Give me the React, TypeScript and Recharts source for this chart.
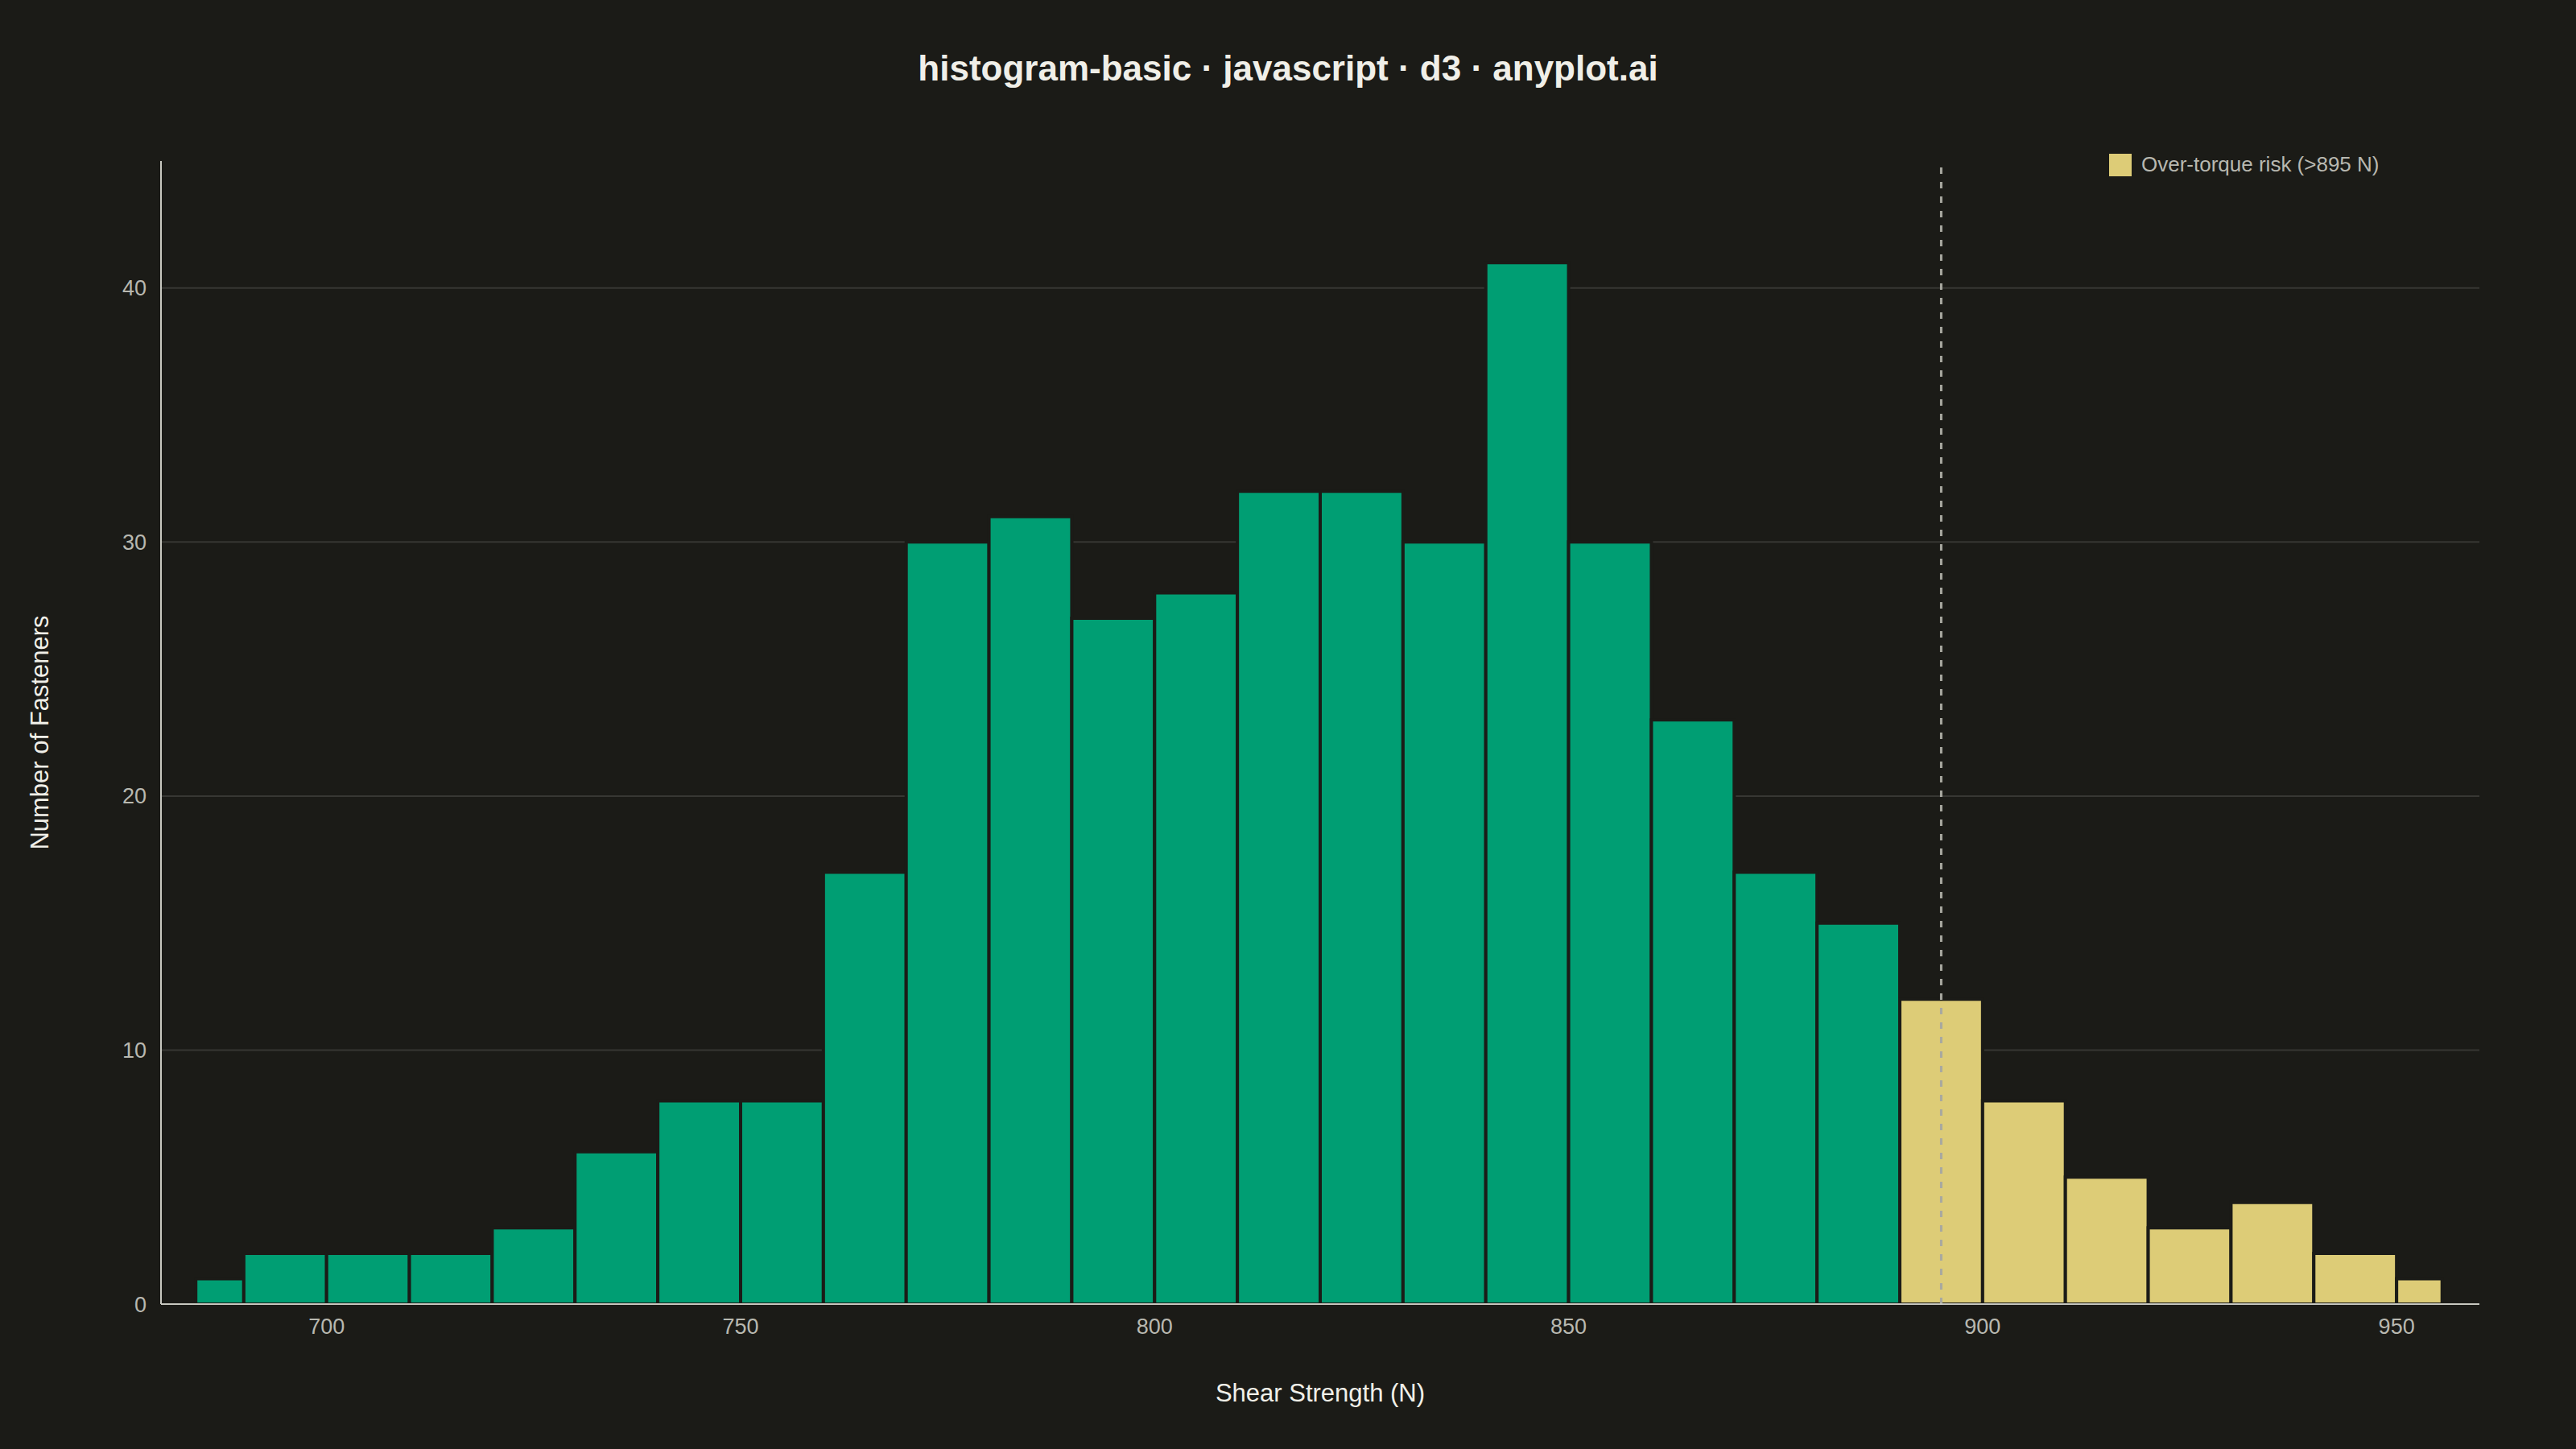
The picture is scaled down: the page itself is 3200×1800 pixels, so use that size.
import {
  ComposedChart, XAxis, YAxis, CartesianGrid, ReferenceArea, ReferenceLine, Legend, Label
} from 'recharts';

// bin edges (N) and counts
const EDGES = [
  684.2, 690, 700, 710, 720, 730, 740, 750, 760, 770, 780, 790, 800, 810, 820,
  830, 840, 850, 860, 870, 880, 890, 900, 910, 920, 930, 940, 950, 955.5,
];
const COUNTS = [
  1, 2, 2, 2, 3, 6, 8, 8, 17, 30, 31, 27, 28, 32, 32,
  30, 41, 30, 23, 17, 15, 12, 8, 5, 3, 4, 2, 1,
];
const THRESHOLD = 895;
const X_TICKS = [700, 750, 800, 850, 900, 950];
const Y_TICKS = [0, 10, 20, 30, 40];
const GRID_VALUES = [10, 20, 30, 40];

const BG = '#1b1b17';
const GREEN = '#009e73';
const SAND = '#ddcc77';
const INK = '#f0efe8';
const MUTED = '#b8b8b0';
const FONT = "'Liberation Sans', Arial, sans-serif";

const bins = COUNTS.map((count, i) => ({
  x0: EDGES[i],
  x1: EDGES[i + 1],
  mid: (EDGES[i] + EDGES[i + 1]) / 2,
  count,
}));

const XTitle = ({ viewBox }: any) => (
  <text
    x={viewBox.x + viewBox.width / 2}
    y={viewBox.y + 121}
    textAnchor="middle"
    fill={INK}
    fontSize={31}
    fontFamily={FONT}
  >
    Shear Strength (N)
  </text>
);

const YTitle = ({ viewBox }: any) => {
  const cx = viewBox.x + 49;
  const cy = viewBox.y + viewBox.height / 2;
  return (
    <text
      x={cx}
      y={cy}
      transform={`rotate(-90, ${cx}, ${cy})`}
      textAnchor="middle"
      dominantBaseline="central"
      fill={INK}
      fontSize={31}
      fontFamily={FONT}
    >
      Number of Fasteners
    </text>
  );
};

const RiskLegend = () => (
  <div style={{ display: 'flex', alignItems: 'center', gap: 12, fontFamily: FONT }}>
    <div style={{ width: 28, height: 28, background: SAND }} />
    <span style={{ color: MUTED, fontSize: 26, whiteSpace: 'nowrap' }}>
      Over-torque risk (&gt;{THRESHOLD} N)
    </span>
  </div>
);

const App = () => {
  return (
    <div
      style={{
        position: 'absolute', left: 0, top: 0, width: 3200, height: 1800,
        background: BG, fontFamily: FONT,
      }}
    >
      <div
        style={{
          position: 'absolute', top: 63, left: 0, width: 3200, textAlign: 'center',
          color: INK, fontSize: 44, lineHeight: '44px', fontWeight: 'bold', zIndex: 2,
        }}
      >
        histogram-basic · javascript · d3 · anyplot.ai
      </div>
      <ComposedChart
        width={3200}
        height={1800}
        data={bins}
        margin={{ top: 200, right: 120, bottom: 0, left: 0 }}
      >
        <CartesianGrid
          vertical={false}
          horizontalValues={GRID_VALUES}
          stroke="#373733"
          strokeWidth={2}
        />
        <XAxis
          dataKey="mid"
          type="number"
          domain={[680, 960]}
          ticks={X_TICKS}
          allowDataOverflow
          height={180}
          tickSize={0}
          tickMargin={18}
          tickLine={false}
          axisLine={{ stroke: '#c8c8c0', strokeWidth: 2 }}
          tick={{ fill: MUTED, fontSize: 27, fontFamily: FONT }}
        >
          <Label content={XTitle} />
        </XAxis>
        <YAxis
          type="number"
          domain={[0, 45]}
          ticks={Y_TICKS}
          allowDataOverflow
          width={200}
          tickSize={0}
          tickMargin={18}
          tickLine={false}
          axisLine={{ stroke: '#c8c8c0', strokeWidth: 2 }}
          tick={{ fill: MUTED, fontSize: 27, fontFamily: FONT }}
        >
          <Label content={YTitle} />
        </YAxis>
        {bins.map((b) => (
          <ReferenceArea
            key={b.x0}
            x1={b.x0}
            x2={b.x1}
            y1={0}
            y2={b.count}
            fill={b.x1 > THRESHOLD ? SAND : GREEN}
            fillOpacity={1}
            stroke={BG}
            strokeWidth={4}
          />
        ))}
        <ReferenceLine y={0} stroke="#c8c8c0" strokeWidth={2} />
        <ReferenceLine
          x={THRESHOLD}
          stroke="#a8a8a0"
          strokeWidth={3}
          strokeDasharray="8 10"
        />
        <Legend
          layout="horizontal"
          verticalAlign="middle"
          align="center"
          content={RiskLegend}
          wrapperStyle={{ top: 189, left: 2620, width: 'auto' }}
        />
      </ComposedChart>
    </div>
  );
};

export default App;
